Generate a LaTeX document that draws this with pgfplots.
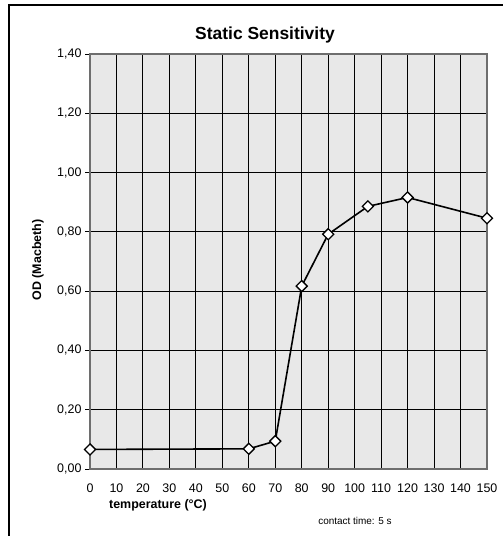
\documentclass[border=0pt]{standalone}
\usepackage{fontspec}
\setmainfont{Liberation Sans}
\usepackage{pgfplots}
\pgfplotsset{compat=1.18}
\definecolor{plotbg}{RGB}{232,232,232}
\definecolor{axgray}{RGB}{110,110,110}

\begin{document}
\begin{tikzpicture}
\useasboundingbox (0,0) rectangle (503bp,536bp);
% outer frame of the chart area (cut off at right and bottom)
\draw[line width=1.3bp] (9bp,0bp) -- (9bp,531bp) -- (503bp,531bp);

\begin{axis}[
    scale only axis,
    width=397bp, height=415bp,
    at={(90bp,67bp)}, anchor=south west,
    xmin=0, xmax=150, ymin=0, ymax=1.4,
    xtick={0,10,...,150},
    ytick={0,0.2,...,1.4},
    ytick pos=left,
    axis background/.style={fill=plotbg},
    axis line style={draw=axgray, line width=1.5bp},
    grid=major,
    major grid style={draw=black, line width=0.9bp},
    tick align=outside,
    major tick length=5bp,
    tick style={draw=black, line width=0.8bp},
    xtick style={draw=none},
    tick label style={font=\fontsize{12.5}{14}\selectfont},
    /pgf/number format/assume math mode=true,
    yticklabel style={/pgf/number format/.cd, fixed, fixed zerofill, precision=2, use comma},
    xticklabel style={yshift=-6bp},
    clip=false,
]
\addplot[black, line width=1.6bp, mark=square*, mark size=3.9bp,
         mark options={fill=white, draw=black, line width=1.3bp, rotate=45}]
  coordinates {
    (0,0.066) (60,0.068) (70,0.094) (80,0.617) (90,0.792)
    (105,0.886) (120,0.916) (150,0.846)
  };
\end{axis}

\node[font=\bfseries\fontsize{17.5}{20}\selectfont] at (265bp,501bp) {Static Sensitivity};
\node[font=\bfseries\fontsize{12.5}{15}\selectfont, rotate=90] at (38bp,276bp) {OD (Macbeth)};
\node[font=\bfseries\fontsize{12.5}{15}\selectfont] at (158bp,31bp) {temperature (°C)};
\node[font=\fontsize{10}{12}\selectfont] at (355bp,15bp) {contact time: 5 s};
\end{tikzpicture}
\end{document}
